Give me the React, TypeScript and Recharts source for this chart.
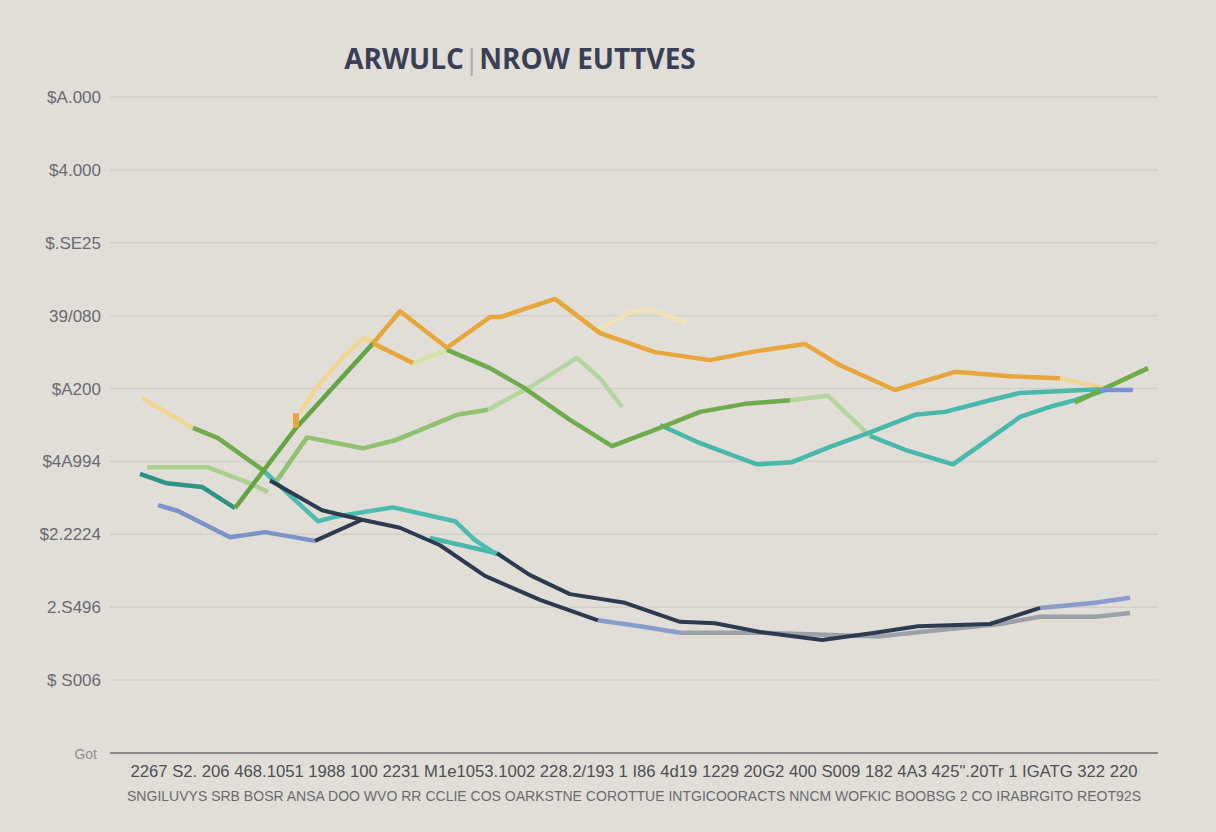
import { CartesianGrid, Line, LineChart, XAxis, YAxis } from 'recharts'

// y axis: value 0..9, one gridline per unit
const Y_TICKS = [0, 1, 2, 3, 4, 5, 6, 7, 8, 9]
const Y_LABELS = ['Got', '$ S006', '2.S496', '$2.2224', '$4A994', '$A200', '39/080', '$.SE25', '$4.000', '$A.000']

const X_ROW_1 =
  '2267 S2. 206 468.1051 1988 100 2231 M1e1053.1002 228.2/193 1 I86 4d19 1229 20G2 400 S009 182 4A3 425".20Tr 1 IGATG 322 220'
const X_ROW_2 =
  'SNGILUVYS SRB BOSR ANSA DOO WVO RR CCLIE COS OARKSTNE COROTTUE INTGICOORACTS NNCM WOFKIC BOOBSG 2 CO IRABRGITO REOT92S'

// each series: [period, value]
type Pt = [number, number]

const yellowA: Pt[] = [[3.05, 4.87], [7.92, 4.46]]
const yellowB: Pt[] = [[18.13, 4.68], [19.75, 5.02], [22.23, 5.43], [24.14, 5.69], [25.29, 5.64]]
const yellowC: Pt[] = [[46.56, 5.8], [49.62, 6.05], [51.53, 6.08], [54.96, 5.91]]
const yellowD: Pt[] = [[90.65, 5.14], [94.94, 5.01]]

const orangeMain: Pt[] = [
  [25.1, 5.62], [27.67, 6.06], [32.16, 5.56], [36.26, 5.98], [37.21, 5.98], [42.46, 6.23],
  [46.76, 5.76], [52.0, 5.5], [57.25, 5.39], [61.55, 5.51], [66.32, 5.61], [69.66, 5.32],
  [74.9, 4.98], [80.63, 5.23], [85.88, 5.17], [90.65, 5.14],
]
const orangeBranch: Pt[] = [[25.1, 5.62], [28.91, 5.35]]
const orangeTick: Pt[] = [[17.75, 4.66], [17.75, 4.46]]
const paleLink: Pt[] = [[28.91, 5.35], [32.16, 5.53]]

const greenA: Pt[] = [[7.92, 4.46], [10.31, 4.32], [14.6, 3.88], [15.74, 3.73]]
const greenRise: Pt[] = [[11.93, 3.36], [17.75, 4.46], [25.1, 5.62]]
const greenB: Pt[] = [
  [32.16, 5.53], [36.26, 5.28], [39.41, 5.02], [43.89, 4.57], [47.9, 4.21],
  [52.48, 4.46], [56.3, 4.68], [60.59, 4.79], [64.89, 4.84],
]
const greenFade: Pt[] = [[64.89, 4.84], [68.51, 4.9], [72.52, 4.35]]
const greenEnd: Pt[] = [[92.08, 4.81], [99.05, 5.28]]
const greenMid: Pt[] = [[15.94, 3.74], [18.8, 4.33], [24.14, 4.18], [27.19, 4.29], [33.11, 4.64], [36.07, 4.71]]
const greenMidFade: Pt[] = [[36.07, 4.71], [40.08, 5.02], [44.56, 5.42], [46.76, 5.14], [48.85, 4.75]]
const greenLight: Pt[] = [[3.53, 3.92], [9.35, 3.92], [13.36, 3.7], [15.08, 3.58]]

const tealDark: Pt[] = [[2.86, 3.83], [5.44, 3.7], [8.78, 3.65], [11.93, 3.36]]
const tealA: Pt[] = [
  [14.79, 3.85], [19.85, 3.18], [21.47, 3.24], [27.0, 3.37], [32.92, 3.18], [34.83, 2.92], [36.93, 2.72],
]
const tealB: Pt[] = [[30.53, 2.95], [36.93, 2.74]]
const tealC: Pt[] = [
  [52.48, 4.5], [56.3, 4.25], [61.74, 3.96], [65.08, 3.99], [68.7, 4.2], [72.52, 4.4],
  [76.81, 4.64], [79.68, 4.68], [83.97, 4.84], [86.83, 4.94], [94.47, 4.99],
]
const tealD: Pt[] = [[72.52, 4.35], [75.86, 4.16], [80.44, 3.96], [86.83, 4.61], [89.69, 4.75], [92.08, 4.84], [94.94, 4.98]]

const blueA: Pt[] = [[4.58, 3.4], [6.49, 3.32], [11.45, 2.96], [14.79, 3.03], [19.56, 2.91]]
const blueB: Pt[] = [[46.56, 1.82], [50.57, 1.74], [54.39, 1.65]]
const blueC: Pt[] = [[88.74, 1.99], [93.99, 2.06], [97.33, 2.13]]
const blueD: Pt[] = [[94.47, 4.98], [97.61, 4.98]]

const navyA: Pt[] = [
  [15.27, 3.74], [20.23, 3.33], [24.05, 3.2], [27.67, 3.09], [31.49, 2.85], [35.78, 2.43], [41.03, 2.1], [46.56, 1.82],
]
const navyB: Pt[] = [[19.56, 2.91], [24.05, 3.2]]
const navyC: Pt[] = [
  [36.93, 2.74], [40.08, 2.44], [43.89, 2.18], [49.14, 2.06], [54.39, 1.8], [57.73, 1.78],
  [62.02, 1.66], [67.94, 1.55], [72.99, 1.65], [77.1, 1.74], [83.97, 1.77], [88.74, 1.99],
]
const grey: Pt[] = [
  [54.39, 1.65], [62.02, 1.65], [73.47, 1.6], [77.29, 1.66], [84.92, 1.77], [88.74, 1.87], [93.99, 1.87], [97.33, 1.92],
]

// draw order: back to front
const LINES: Array<{ id: string; pts: Pt[]; color: string; width?: number }> = [
  { id: 'yellowA', pts: yellowA, color: '#eed591' },
  { id: 'yellowB', pts: yellowB, color: '#efd793' },
  { id: 'yellowC', pts: yellowC, color: '#f1e3b8' },
  { id: 'yellowD', pts: yellowD, color: '#eed591' },
  { id: 'grey', pts: grey, color: '#9ca1a8' },
  { id: 'greenLight', pts: greenLight, color: '#abd094' },
  { id: 'greenMidFade', pts: greenMidFade, color: '#b4d5a0' },
  { id: 'greenMid', pts: greenMid, color: '#8fc170' },
  { id: 'greenFade', pts: greenFade, color: '#b4d5a0' },
  { id: 'paleLink', pts: paleLink, color: '#d3e2a8' },
  { id: 'tealC', pts: tealC, color: '#47b8a9' },
  { id: 'tealD', pts: tealD, color: '#47b8a9' },
  { id: 'greenB', pts: greenB, color: '#6fab4c' },
  { id: 'greenA', pts: greenA, color: '#6fab4c' },
  { id: 'tealDark', pts: tealDark, color: '#2f9287' },
  { id: 'blueA', pts: blueA, color: '#7c93c8' },
  { id: 'blueB', pts: blueB, color: '#8a9ccb' },
  { id: 'blueC', pts: blueC, color: '#8a9ccb' },
  { id: 'tealB', pts: tealB, color: '#47b8a9' },
  { id: 'tealA', pts: tealA, color: '#4bbcad' },
  { id: 'navyB', pts: navyB, color: '#2d3a50', width: 4 },
  { id: 'navyA', pts: navyA, color: '#2d3a50', width: 4 },
  { id: 'navyC', pts: navyC, color: '#2d3a50', width: 4 },
  { id: 'greenRise', pts: greenRise, color: '#64a443' },
  { id: 'orangeBranch', pts: orangeBranch, color: '#e6a63c' },
  { id: 'orangeMain', pts: orangeMain, color: '#e6a63c' },
  { id: 'orangeTick', pts: orangeTick, color: '#e6a63c', width: 6 },
  { id: 'greenEnd', pts: greenEnd, color: '#6fab4c' },
  { id: 'blueD', pts: blueD, color: '#7b8fd6' },
]

const toRows = (pts: Pt[]) => pts.map(([x, y]) => ({ x, y }))

function YTick(props: any) {
  const { x, y, payload } = props
  const v = payload.value as number
  const isBase = v === 0
  return (
    <text
      x={x}
      y={y}
      dx={isBase ? 3 : 7}
      dy={6}
      textAnchor="end"
      fontFamily="'Liberation Sans', Arial, sans-serif"
      fontSize={isBase ? 14 : 17}
      fill={isBase ? '#8f8f92' : '#6a6a72'}
    >
      {Y_LABELS[v]}
    </text>
  )
}

function XTick(props: any) {
  const { x, y } = props
  return (
    <g fontFamily="'Liberation Sans', Arial, sans-serif">
      <text x={x} y={y + 16} textAnchor="middle" fontSize={16} fill="#4e4e52" textLength={1007} lengthAdjust="spacingAndGlyphs">
        {X_ROW_1}
      </text>
      <text x={x} y={y + 40} textAnchor="middle" fontSize={14} fill="#6a6a6e" textLength={1014} lengthAdjust="spacingAndGlyphs">
        {X_ROW_2}
      </text>
    </g>
  )
}

export default function App() {
  return (
    <div style={{ position: 'fixed', left: 0, top: 0, width: 1216, height: 832, background: '#e1ded8' }}>
      <div
        style={{
          position: 'absolute',
          left: 300,
          top: 38,
          width: 440,
          textAlign: 'center',
          fontFamily: "'Open Sans', sans-serif",
          fontWeight: 700,
          fontSize: 28,
          color: '#3b3f55',
          lineHeight: '40px',
        }}
      >
        ARWULC<span style={{ color: '#a9a9b0', fontWeight: 400 }}>|</span>NROW EUTTVES
      </div>
      <LineChart width={1216} height={832} margin={{ top: 97, right: 58, bottom: 19, left: 20 }}>
        <CartesianGrid vertical={false} stroke="#d2cfc9" strokeWidth={1.5} />
        <XAxis
          type="number"
          dataKey="x"
          domain={[0, 100]}
          ticks={[50]}
          interval={0}
          tick={XTick}
          tickLine={false}
          axisLine={{ stroke: '#6f6f72', strokeWidth: 1.5 }}
          height={60}
        />
        <YAxis
          type="number"
          domain={[0, 9]}
          ticks={Y_TICKS}
          interval={0}
          tick={YTick}
          tickLine={false}
          axisLine={false}
          tickMargin={10}
          width={90}
        />
        {LINES.map((l) => (
          <Line
            key={l.id}
            data={toRows(l.pts)}
            dataKey="y"
            type="linear"
            stroke={l.color}
            strokeWidth={l.width ?? 4.5}
            strokeLinejoin="round"
            dot={false}
            activeDot={false}
            isAnimationActive={false}
          />
        ))}
      </LineChart>
    </div>
  )
}
